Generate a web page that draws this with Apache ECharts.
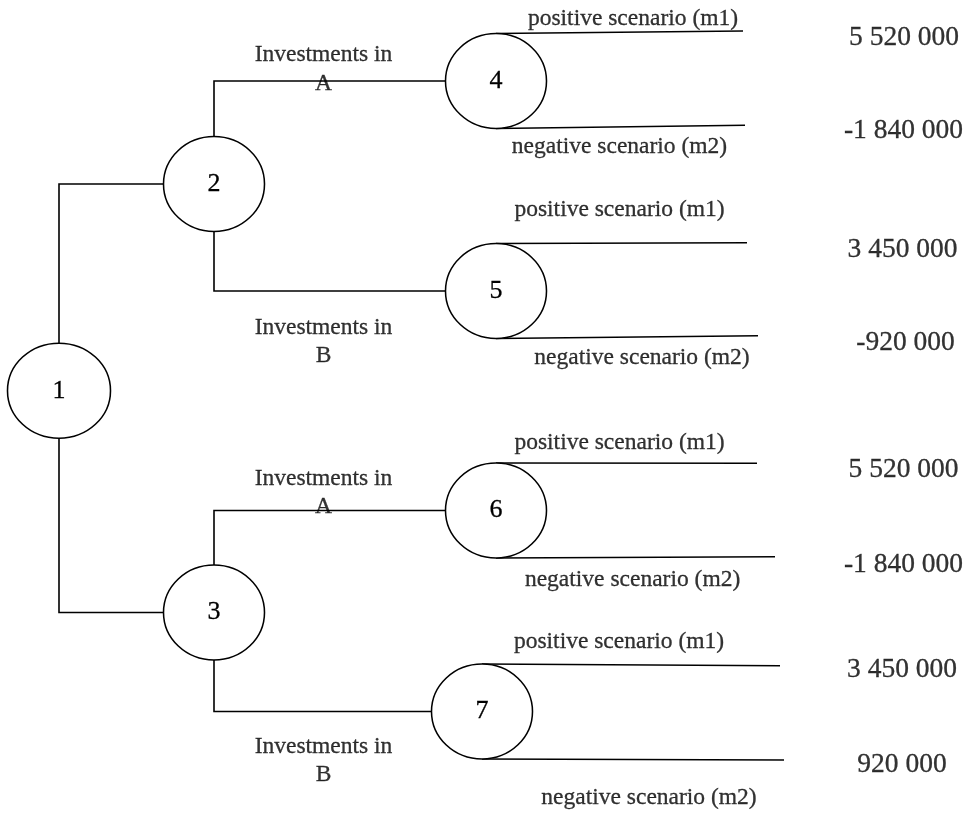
<!DOCTYPE html>
<html>
<head>
<meta charset="utf-8">
<script src="https://cdn.jsdelivr.net/npm/echarts@6/dist/echarts.min.js"></script>
<style>
html,body{margin:0;padding:0;background:#fff;}
#chart{width:971px;height:816px;}
</style>
</head>
<body>
<div id="chart"></div>
<script>
// ---- data ----
const nodeNames = ['1', '2', '3', '4', '5', '6', '7'];
const nodeX = [59, 214, 214, 496, 496, 496, 482];
const nodeY = [390.7, 184, 612.5, 81, 291, 510.5, 711.5];
const edges = [[0, 1], [0, 2], [1, 3], [1, 4], [2, 5], [2, 6]];

const investTexts = ['Investments in\nA', 'Investments in\nB', 'Investments in\nA', 'Investments in\nB'];
const investX = [323.5, 323.5, 323.5, 323.5];
const investY = [69.5, 342, 493, 761];

// chance nodes 4..7 -> outcome branches (top = m1, bottom = m2)
const outcomeNode = [3, 3, 4, 4, 5, 5, 6, 6];
const outcomeSide = [-1, 1, -1, 1, -1, 1, -1, 1];
const outcomeEndX = [743, 745, 747, 758, 757, 775, 780, 784];
const outcomeEndY = [31, 125.3, 242.7, 335.7, 463.3, 556.7, 665.7, 760];

const scenarioTexts = ['positive scenario (m1)', 'negative scenario (m2)', 'positive scenario (m1)', 'negative scenario (m2)',
                       'positive scenario (m1)', 'negative scenario (m2)', 'positive scenario (m1)', 'negative scenario (m2)'];
const scenarioX = [633, 619.5, 619.5, 642, 619.5, 632.6, 619, 649];
const scenarioY = [18.5, 147, 210, 358, 443, 580, 642, 798];

const payoffTexts = ['5 520 000', '-1 840 000', '3 450 000', '-920 000', '5 520 000', '-1 840 000', '3 450 000', '920 000'];
const payoffX = [904, 903.5, 902.5, 905.5, 903.5, 903.5, 902, 902];
const payoffY = [37.5, 131, 250, 343, 470, 565, 670, 765];

// ---- styles ----
const FONT = '"Liberation Serif", "Times New Roman", serif';
const nodeW = i => (i === 0 ? 103 : 101);
const nodeH = 95;
const lineStyle = { color: '#000', width: 1.6, opacity: 1 };

// connectors (elbow): parent top/bottom -> vertical -> horizontal to child's left
const connectorData = edges.map(([p, c]) => {
  const dir = nodeY[c] < nodeY[p] ? -1 : 1;
  const sy = nodeY[p] + dir * nodeH / 2;
  return {
    coords: [[nodeX[p], sy], [nodeX[p], nodeY[c]], [nodeX[c] - nodeW(c) / 2, nodeY[c]]]
  };
});

const outcomeData = outcomeNode.map((n, i) => ({
  coords: [[nodeX[n], nodeY[n] + outcomeSide[i] * nodeH / 2], [outcomeEndX[i], outcomeEndY[i]]]
}));

const textSeries = (texts, xs, ys, size, lh) => ({
  type: 'scatter',
  symbolSize: 0,
  z: 5,
  silent: true,
  data: texts.map((t, i) => ({ name: t, value: [xs[i], ys[i]] })),
  label: {
    show: true,
    position: 'inside',
    formatter: p => p.name,
    fontFamily: FONT,
    fontSize: size,
    lineHeight: lh,
    color: '#000',
    textBorderColor: '#000',
    textBorderWidth: 0.3,
    align: 'center',
    verticalAlign: 'middle'
  }
});

const chart = echarts.init(document.getElementById('chart'), null, { renderer: 'canvas' });
chart.setOption({
  backgroundColor: '#fff',
  animation: false,
  grid: { left: 0, right: 0, top: 0, bottom: 0 },
  xAxis: { type: 'value', min: 0, max: 971, show: false },
  yAxis: { type: 'value', min: 0, max: 816, inverse: true, show: false },
  series: [
    {
      type: 'lines',
      coordinateSystem: 'cartesian2d',
      polyline: true,
      z: 1,
      silent: true,
      lineStyle: lineStyle,
      data: connectorData
    },
    {
      type: 'lines',
      coordinateSystem: 'cartesian2d',
      z: 1,
      silent: true,
      lineStyle: lineStyle,
      data: outcomeData
    },
    {
      type: 'scatter',
      z: 3,
      silent: true,
      symbol: 'circle',
      data: nodeNames.map((n, i) => ({
        name: n,
        value: [nodeX[i], nodeY[i]],
        symbolSize: [nodeW(i), nodeH]
      })),
      itemStyle: { color: '#fff', borderColor: '#000', borderWidth: 1.5, opacity: 1 },
      label: {
        show: true,
        position: 'inside',
        formatter: p => p.name,
        fontFamily: FONT,
        fontSize: 26,
        color: '#000',
        textBorderColor: '#000',
        textBorderWidth: 0.3
      }
    },
    textSeries(investTexts, investX, investY, 23.5, 28.5),
    textSeries(scenarioTexts, scenarioX, scenarioY, 23.5, 23.5),
    textSeries(payoffTexts, payoffX, payoffY, 27.5, 27.5)
  ]
});
</script>
</body>
</html>
